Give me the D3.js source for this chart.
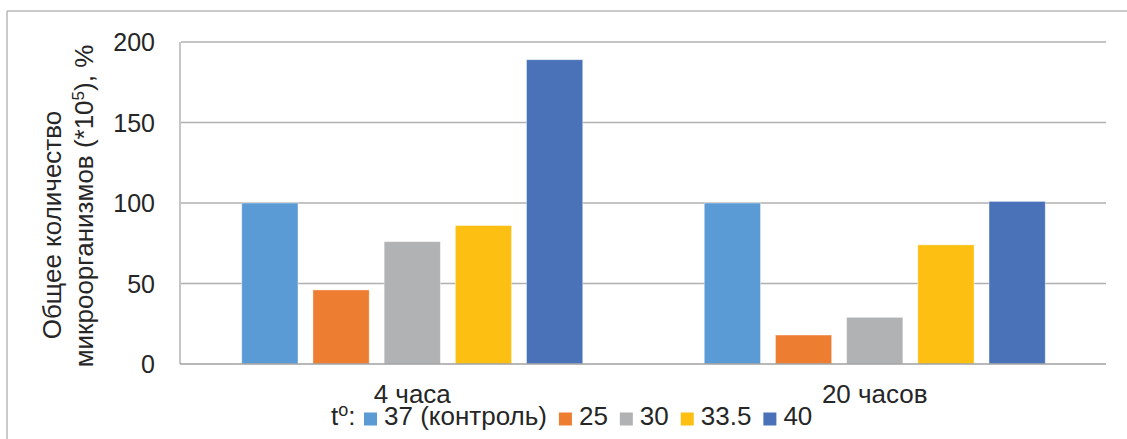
<!DOCTYPE html>
<html>
<head>
<meta charset="utf-8">
<script src="https://cdn.jsdelivr.net/npm/d3@7"></script>
<style>
  html, body { margin: 0; padding: 0; background: #fff; }
  svg { display: block; }
  text { font-family: "Liberation Sans", Arial, sans-serif; fill: #262626; }
</style>
</head>
<body>
<svg id="chart" width="1127" height="439"></svg>
<script>
const categories = ["4 часа", "20 часов"];
const seriesNames = ["37 (контроль)", "25", "30", "33.5", "40"];
const values37 = [100, 100];
const values25 = [46, 18];
const values30 = [76, 29];
const values335 = [86, 74];
const values40 = [189, 101];
const yTicks = [0, 50, 100, 150, 200];
const colors = ["#5B9BD5", "#ED7D31", "#B1B2B4", "#FCBF12", "#4A72B8"];

const seriesValues = [values37, values25, values30, values335, values40];

const svg = d3.select("#chart");

// outer frame (top & left visible)
svg.append("line").attr("x1", 7).attr("x2", 1127).attr("y1", 11).attr("y2", 11)
  .attr("stroke", "#b8b8b8").attr("stroke-width", 1.5);
svg.append("line").attr("x1", 7).attr("x2", 7).attr("y1", 11).attr("y2", 439)
  .attr("stroke", "#b8b8b8").attr("stroke-width", 1.5);

const plotLeft = 181, plotRight = 1106, plotTop = 42, plotBottom = 364;

const y = d3.scaleLinear().domain([0, 200]).range([plotBottom, plotTop]);
const x0 = d3.scaleBand().domain(categories).range([plotLeft, plotRight]).padding(0);
const groupPad = 60.75;
const x1 = d3.scaleBand().domain(seriesNames)
  .range([groupPad, x0.bandwidth() - groupPad]).paddingInner(0.21).paddingOuter(0);

// gridlines
svg.append("g").selectAll("line").data(yTicks.filter(d => d > 0)).join("line")
  .attr("x1", plotLeft).attr("x2", plotRight)
  .attr("y1", d => y(d)).attr("y2", d => y(d))
  .attr("stroke", "#b0b0b0").attr("stroke-width", 1.4);

// tick labels
svg.append("g").selectAll("text").data(yTicks).join("text")
  .attr("x", 155).attr("y", d => y(d)).attr("dy", "0.36em")
  .attr("text-anchor", "end").attr("font-size", 25)
  .text(d => d);

// bars
const groups = svg.append("g").selectAll("g").data(categories).join("g")
  .attr("transform", c => `translate(${x0(c)},0)`);
groups.selectAll("rect")
  .data((c, ci) => seriesNames.map((s, si) => ({ s, si, v: seriesValues[si][ci] })))
  .join("rect")
  .attr("x", d => x1(d.s)).attr("width", x1.bandwidth())
  .attr("y", d => y(d.v)).attr("height", d => y(0) - y(d.v))
  .attr("fill", d => colors[d.si])
  .attr("stroke", "#ffffff").attr("stroke-opacity", 0.5).attr("stroke-width", 0.8);

// axis lines (left + baseline)
svg.append("line").attr("x1", plotLeft - 1).attr("x2", plotLeft - 1).attr("y1", plotTop).attr("y2", plotBottom)
  .attr("stroke", "#a8a8a8").attr("stroke-width", 1.3);
svg.append("line").attr("x1", plotLeft - 1).attr("x2", plotRight).attr("y1", plotBottom).attr("y2", plotBottom)
  .attr("stroke", "#a0a0a0").attr("stroke-width", 1.6);

// category labels
svg.append("g").selectAll("text").data(categories).join("text")
  .attr("x", c => x0(c) + x0.bandwidth() / 2).attr("y", 403)
  .attr("text-anchor", "middle").attr("font-size", 26)
  .text(c => c);

// y axis title (two lines, rotated)
svg.append("text")
  .attr("transform", "translate(60.5,225) rotate(-90)")
  .attr("text-anchor", "middle").attr("font-size", 26)
  .text("Общее количество");
const t2 = svg.append("text")
  .attr("transform", "translate(93,206) rotate(-90)")
  .attr("text-anchor", "middle").attr("font-size", 26);
t2.append("tspan").text("микроорганизмов (*10");
t2.append("tspan").attr("font-size", 17).attr("dy", -9).text("5");
t2.append("tspan").attr("dy", 9).text("), %");

// legend
const ly = 425;
const lt = svg.append("text").attr("x", 331).attr("y", ly).attr("font-size", 26);
lt.append("tspan").text("t");
lt.append("tspan").attr("font-size", 18).attr("dy", -9).text("o");
lt.append("tspan").attr("dy", 9).text(":");
let lx = 364;
seriesNames.forEach((s, i) => {
  svg.append("rect").attr("x", lx).attr("y", ly - 12.5).attr("width", 13).attr("height", 13)
    .attr("fill", colors[i]);
  const t = svg.append("text").attr("x", lx + 20).attr("y", ly).attr("font-size", 26).text(s);
  lx = lx + 20 + t.node().getComputedTextLength() + 12;
});
</script>
</body>
</html>
